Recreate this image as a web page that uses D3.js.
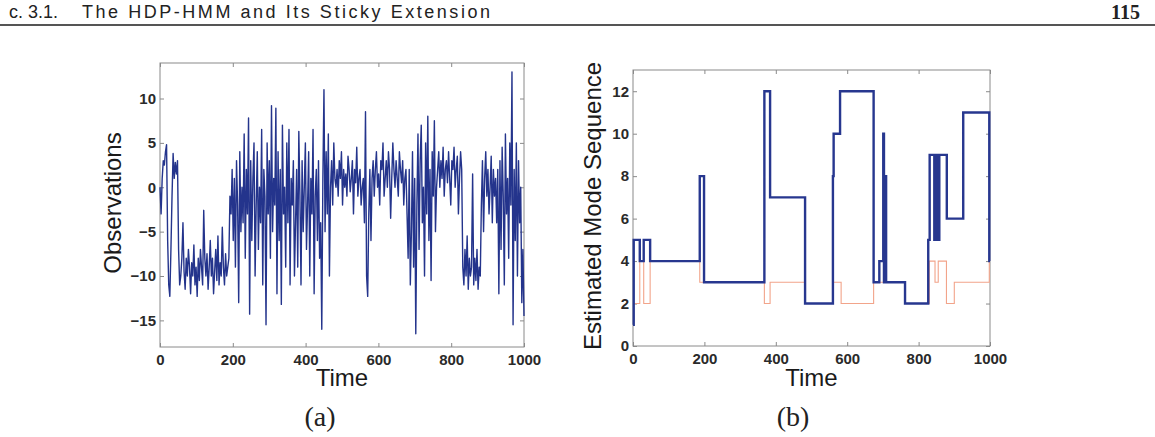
<!DOCTYPE html>
<html>
<head>
<meta charset="utf-8">
<script src="https://cdn.jsdelivr.net/npm/d3@7"></script>
<style>
  html, body { margin: 0; padding: 0; background: #fff; }
  svg { display: block; }
  .tick text { font-family: "Liberation Sans", Arial, sans-serif; font-weight: bold; font-size: 15px; fill: #2a2a2a; }
</style>
</head>
<body>
<svg id="svg" width="1155" height="437"></svg>
<script>
// (a) observations, sampled evenly over time 0..1000
const obsValues = [
  0, -3, 1, 3, 2.5, 4, 4.8,
  -6, -11, -12.3, -7,
  -1, 3.8, 1, 2.8, 1.5, 3,
  -7, -11, -10, -8, -4, -9.5, -11.5, -8, -10, -7, -9, -12, -8.5, -10, -6.5, -11, -9, -12.3, -8, -10.5,
  -7, -9, -11, -2.6, -8, -10, -7.5, -11.5, -9, -6, -10, -8, -12, -9.5, -7, -10.5, -5.5, -11, -8.5, -10,
  -4.5, -9, -11, -7.5, -10, -9, -8,
  -1, -3, 2, -6, 1, -9, 3, -2, -13, 4, -5, 0, -4, 6, -8, 2, -3, 7.8, -14.3, 3,
  -6, 1, 5, -10, -2, 4, -7, 0, -4, 6.5, -11, 2, -1, -15.5, 5, -3, 3, -8, 9.2, -5,
  1, -2, 8.9, -12, 4, -6, 2, -13.2, 7, -3, 0, -9, 5, -4, 6.5, -11, 1, -2, 3, -10,
  -4, 2, -9, 6.3, -1, -11, 3, -5, 0, 5, -7, -2, 4, -10, 1, -3, 6.5, -12, -1, 2,
  -6, 3, -8, -4, -16, 1, 11, -5, 4, -3, 6, -10, 0, 3, -2, 5, 1,
  0, 2, -1, 3, 1, 4, -2, 2, 0, 1.5, -1, 3.5, 2, -0.5, 1, 3, -3, 2, 0.5, 4.5, -1, 1, 2, -2, 0, 1,
  -4, 8.5, -10, -12.3, -3, 2, -6,
  1, 3, -1, 2, 4, 0, 1.5, -2, 3, 2, 5, -1, 1, 3, 0, 4, 2, -3.5, 1, 5, 2, 0, 3, 1, -1, 4, 2, 0.5, 3, -2, 1, 2,
  -3, -8, 2, -11, -5, 4, -9, 1, -16.5, -2, 6, -7, 3, 7, -4, 0, -10, 5, -3, 8, -6, 2, -10.5, 4, -1, 7.5, -5, 0,
  2, 4, 0, 3, 1, 4.5, -1, 2, 3, 0.5, 4, 1, -2, 3, 2, 4.5, 0, 2, 3.5, -3, 1, 4, 2,
  -9, -11, -7, -10, -5.5, -11.5, -8, -10, -9, 1.5, -11, -8, -10.5, -7, -11.5, -9, -10,
  -2, 3, -5, 1, 4, -1, 2, -3, 0, 3.5, -4, 2, -1, 1,
  -4, 2, -12, 3, -7, 4.5, -1, -11, 6, -3, 1, -8, 5, -2, 13, -15.5, 2, -6, 5, -10, 3, -4, 0, -13, -7, -14.5
];

// (b) estimated mode sequence (step changes)
const estTimes = [0, 2, 19, 30, 48, 187, 199, 368, 384, 482, 560, 562, 580, 674, 690, 701, 703, 704, 706, 707, 709,
  762, 827, 831, 844, 846, 848, 850, 852, 854, 856, 858, 879, 925, 998, 1000];
const estModes = [1, 5, 4, 5, 4, 8, 3, 12, 7, 2, 8, 10, 12, 3, 4, 10, 3, 8, 3, 8, 3,
  2, 5, 9, 5, 9, 5, 9, 5, 9, 5, 9, 6, 11, 4, 4];

// (b) true mode sequence
const trueTimes = [0, 19, 30, 48, 187, 368, 384, 482, 560, 583, 674, 762, 830, 846, 855, 878, 900, 998, 1000];
const trueModes = [2, 4, 2, 4, 3, 2, 3, 2, 3, 2, 3, 2, 4, 3, 4, 2, 3, 4, 4];

const xTicks = [0, 200, 400, 600, 800, 1000];
const obsTicks = [-15, -10, -5, 0, 5, 10];
const modeTicks = [0, 2, 4, 6, 8, 10, 12];

const svg = d3.select("#svg");
const sans = "'Liberation Sans', Arial, sans-serif";
const serif = "'Liberation Serif', 'Times New Roman', serif";

// page header
svg.append("text")
  .attr("x", 58).attr("y", 18)
  .attr("text-anchor", "end")
  .attr("font-family", sans)
  .attr("font-size", 18).attr("fill", "#222")
  .text("c. 3.1.");
svg.append("text")
  .attr("x", 82).attr("y", 18)
  .attr("font-family", sans)
  .attr("font-size", 18).attr("fill", "#222")
  .attr("textLength", 408).attr("lengthAdjust", "spacing")
  .text("The HDP-HMM and Its Sticky Extension");
svg.append("text")
  .attr("x", 1111).attr("y", 19)
  .attr("font-family", serif).attr("font-weight", "bold")
  .attr("font-size", 20).attr("fill", "#222")
  .text("115");
svg.append("line")
  .attr("x1", 0).attr("x2", 1155).attr("y1", 25).attr("y2", 25)
  .attr("stroke", "#555").attr("stroke-width", 2);

function panel(opts) {
  const x = d3.scaleLinear().domain([0, 1000]).range([opts.left, opts.right]);
  const y = d3.scaleLinear().domain(opts.yDomain).range([opts.bottom, opts.top]);
  const g = svg.append("g");

  // box + inward ticks on all four sides (matlab style)
  g.append("rect")
    .attr("x", opts.left).attr("y", opts.top)
    .attr("width", opts.right - opts.left).attr("height", opts.bottom - opts.top)
    .attr("fill", "none").attr("stroke", "#8a8a8a");

  const fmt = d3.format("d");
  const bottom = g.append("g").attr("transform", `translate(0,${opts.bottom})`)
    .call(d3.axisBottom(x).tickValues(xTicks).tickFormat(fmt).tickSize(-4).tickSizeOuter(0).tickPadding(7));
  const top = g.append("g").attr("transform", `translate(0,${opts.top})`)
    .call(d3.axisTop(x).tickValues(xTicks).tickSize(-4).tickSizeOuter(0).tickFormat(""));
  const left = g.append("g").attr("transform", `translate(${opts.left},0)`)
    .call(d3.axisLeft(y).tickValues(opts.yTicks).tickFormat(fmt).tickSize(-4).tickSizeOuter(0).tickPadding(4));
  const right = g.append("g").attr("transform", `translate(${opts.right},0)`)
    .call(d3.axisRight(y).tickValues(opts.yTicks).tickSize(-4).tickSizeOuter(0).tickFormat(""));
  [bottom, top, left, right].forEach(a => {
    a.select(".domain").remove();
    a.selectAll(".tick line").attr("stroke", "#8a8a8a");
  });

  g.append("text")
    .attr("x", (opts.left + opts.right) / 2).attr("y", 386)
    .attr("text-anchor", "middle")
    .attr("font-family", sans).attr("font-size", 24).attr("fill", "#1a1a1a")
    .text("Time");

  g.append("text")
    .attr("transform", `translate(${opts.labelX},${(opts.top + opts.bottom) / 2 - 2}) rotate(-90)`)
    .attr("text-anchor", "middle")
    .attr("font-family", sans).attr("font-size", 24).attr("fill", "#1a1a1a")
    .text(opts.yLabel);

  g.append("text")
    .attr("x", opts.captionX).attr("y", 426)
    .attr("text-anchor", "middle")
    .attr("font-family", serif).attr("font-size", 28).attr("fill", "#222")
    .text(opts.caption);

  return { x, y, g };
}

// (a)
const pa = panel({
  left: 160, right: 524, top: 63, bottom: 347, yDomain: [-18, 14], yTicks: obsTicks,
  labelX: 121, yLabel: "Observations", captionX: 320, caption: "(a)"
});
const obsStep = 1000 / (obsValues.length - 1);
pa.g.append("path")
  .datum(obsValues)
  .attr("fill", "none")
  .attr("stroke", "#24348c")
  .attr("stroke-width", 1.4)
  .attr("stroke-linejoin", "round")
  .attr("d", d3.line().x((d, i) => pa.x(i * obsStep)).y(d => pa.y(d)));

// (b)
const pb = panel({
  left: 633, right: 990, top: 70, bottom: 346, yDomain: [0, 13], yTicks: modeTicks,
  labelX: 601, yLabel: "Estimated Mode Sequence", captionX: 793, caption: "(b)"
});
const stepLine = d3.line().curve(d3.curveStepAfter)
  .x(d => pb.x(d[0])).y(d => pb.y(d[1]));

pb.g.append("path")
  .datum(d3.zip(trueTimes, trueModes))
  .attr("fill", "none")
  .attr("stroke", "#f2a48a")
  .attr("stroke-width", 1.1)
  .attr("d", stepLine);

pb.g.append("path")
  .datum(d3.zip(estTimes, estModes))
  .attr("fill", "none")
  .attr("stroke", "#27378f")
  .attr("stroke-width", 2.4)
  .attr("d", stepLine);
</script>
</body>
</html>
